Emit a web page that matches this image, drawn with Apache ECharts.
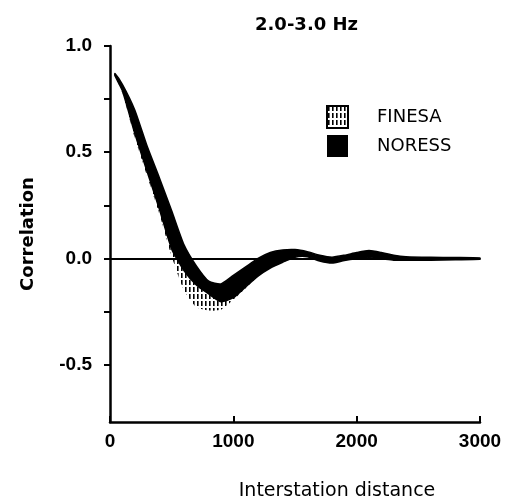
<!DOCTYPE html>
<html>
<head>
<meta charset="utf-8">
<script src="https://cdn.jsdelivr.net/npm/echarts@6/dist/echarts.min.js"></script>
<style>
html,body{margin:0;padding:0;background:#fff;}
#chart{width:513px;height:501px;}
</style>
</head>
<body>
<div id="chart"></div>
<script>
// ---- data ----
var distances = [40,100,200,300,400,500,600,700,800,900,1000,1100,1200,1300,1400,1500,1600,1700,1800,1900,2000,2100,2200,2300,2400,2600,2800,3000];
var noressUpper = [0.87,0.82,0.70,0.53,0.38,0.224,0.064,-0.035,-0.107,-0.12,-0.08,-0.04,0.0,0.028,0.04,0.042,0.032,0.015,0.006,0.015,0.028,0.037,0.028,0.015,0.008,0.005,0.004,0.002];
var noressLower = [0.86,0.79,0.59,0.41,0.233,0.045,-0.057,-0.125,-0.167,-0.204,-0.185,-0.134,-0.083,-0.045,-0.018,0.006,0.008,-0.012,-0.022,-0.01,-0.002,0.003,-0.002,-0.008,-0.009,-0.008,-0.006,-0.004];
var finesaUpper = [0.87,0.81,0.68,0.51,0.36,0.20,0.04,-0.05,-0.11,-0.12,-0.085,-0.045,-0.005,0.025,0.038,0.04,0.03,0.012,0.004,0.012,0.025,0.034,0.025,0.012,0.006,0.004,0.003,0.001];
var finesaLower = [0.86,0.78,0.57,0.39,0.21,0.01,-0.15,-0.23,-0.245,-0.242,-0.195,-0.14,-0.085,-0.045,-0.018,0.006,0.008,-0.012,-0.02,-0.01,-0.002,0.003,-0.002,-0.007,-0.008,-0.007,-0.005,-0.003];
var xTickLabels = ['0','1000','2000','3000'];
var yTickValues = [-0.5,-0.25,0,0.25,0.5,0.75,1.0];
var yLabelValues = [-0.5,0,0.5,1.0];
var seriesNames = ['FINESA','NORESS'];
var titleText = '2.0-3.0 Hz';
var xName = 'Interstation distance';
var yName = 'Correlation';

// hatch pattern for FINESA
function makeHatch(){
  var c = document.createElement('canvas');
  c.width = 4; c.height = 7;
  var g = c.getContext('2d');
  g.fillStyle = '#fff'; g.fillRect(0,0,4,7);
  g.fillStyle = '#000'; g.fillRect(1,0,1.6,5);
  return c;
}
var hatch = {image: makeHatch(), repeat: 'repeat'};

function bandData(up, lo){ return distances.map(function(x,i){ return [x, up[i], lo[i]]; }); }
function bandRenderer(up, lo, style){
  return function(params, api){
    if (params.dataIndex !== 0) return;
    var pts = [];
    for (var i = 0; i < distances.length; i++) pts.push(api.coord([distances[i], up[i]]));
    for (var j = distances.length - 1; j >= 0; j--) pts.push(api.coord([distances[j], lo[j]]));
    return {type: 'polygon', shape: {points: pts, smooth: 0.2}, style: style};
  };
}

var chart = echarts.init(document.getElementById('chart'), null, {renderer:'canvas'});
var sans = 'Liberation Sans, Arial, Helvetica, sans-serif';
var wide = 'DejaVu Sans, Verdana, sans-serif';
chart.setOption({
  animation: false,
  backgroundColor: '#fff',
  title: {
    text: titleText, left: 250, top: 11,
    textStyle: {fontFamily: wide, fontSize: 18, fontWeight: 'bold', color: '#000'}
  },
  legend: {
    orient: 'vertical', left: 321, top: 100, itemWidth: 21, itemHeight: 22, itemGap: 6,
    selectedMode: false,
    textStyle: {fontFamily: wide, fontSize: 18, color: '#000', padding: [0,0,0,24]},
    data: [
      {name: seriesNames[0], icon: 'rect', itemStyle: {color: hatch, borderColor: '#000', borderWidth: 2}},
      {name: seriesNames[1], icon: 'rect', itemStyle: {color: '#000'}}
    ]
  },
  grid: {left: 110, right: 33, top: 46, bottom: 79, containLabel: false, outerBoundsMode: 'none'},
  xAxis: {
    type: 'value', min: 0, max: 3000, interval: 1000,
    name: xName, nameLocation: 'middle', nameGap: 60,
    nameTextStyle: {fontFamily: wide, fontSize: 19, color: '#000', padding: [0,0,0,84]},
    axisLine: {onZero: false, lineStyle: {color: '#000', width: 2.5}},
    axisTick: {inside: true, length: 6, lineStyle: {color: '#000', width: 2}},
    axisLabel: {margin: 10, fontFamily: sans, fontSize: 19, fontWeight: 'bold', color: '#000',
      formatter: function(v){ return xTickLabels[Math.round(v / 1000)]; }},
    splitLine: {show: false}
  },
  yAxis: {
    type: 'value', min: -0.77, max: 1.0,
    name: yName, nameLocation: 'middle', nameGap: 73, nameRotate: 90,
    nameTextStyle: {fontFamily: wide, fontSize: 18, fontWeight: 'bold', color: '#000'},
    axisLine: {lineStyle: {color: '#000', width: 2.5}},
    axisTick: {inside: false, length: 6, customValues: yTickValues, lineStyle: {color: '#000', width: 2}},
    axisLabel: {margin: 18, customValues: yLabelValues, fontFamily: sans, fontSize: 19, fontWeight: 'bold', color: '#000',
      formatter: function(v){ return v.toFixed(1); }},
    splitLine: {show: false}
  },
  series: [
    {name: seriesNames[0], type: 'custom', data: bandData(finesaUpper, finesaLower),
     encode: {x: 0, y: [1, 2]}, itemStyle: {color: '#000'}, z: 2,
     renderItem: bandRenderer(finesaUpper, finesaLower, {fill: hatch, stroke: null}),
     markLine: {silent: true, symbol: 'none', label: {show: false},
       lineStyle: {color: '#000', width: 2, type: 'solid'}, data: [{yAxis: 0}]}},
    {name: seriesNames[1], type: 'custom', data: bandData(noressUpper, noressLower),
     encode: {x: 0, y: [1, 2]}, itemStyle: {color: '#000'}, z: 3,
     renderItem: bandRenderer(noressUpper, noressLower, {fill: '#000', stroke: '#000', lineWidth: 1.5})}
  ]
});
</script>
</body>
</html>
